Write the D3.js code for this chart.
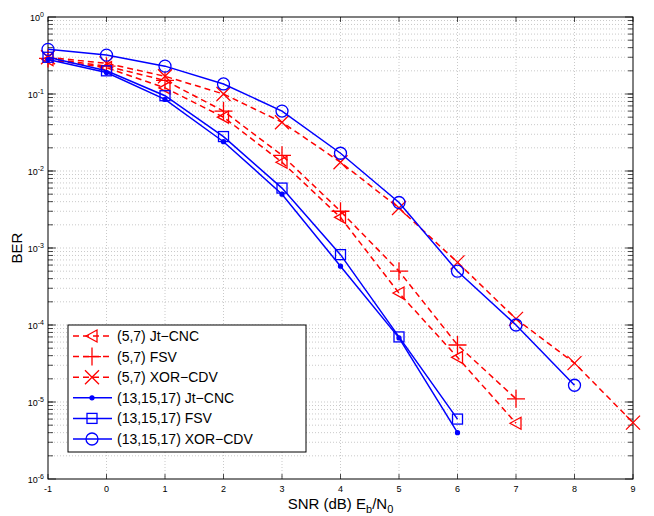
<!DOCTYPE html><html><head><meta charset="utf-8">
<script src="https://cdn.jsdelivr.net/npm/d3@7"></script>
<style>body{margin:0;background:#fff;font-family:"Liberation Sans",Arial,sans-serif}</style></head><body>
<svg id="c" width="654" height="516"></svg>
<script>
const xTicks=[-1,0,1,2,3,4,5,6,7,8,9];
const yExps=[0,-1,-2,-3,-4,-5,-6];
const names=["(5,7) Jt\u2212CNC","(5,7) FSV","(5,7) XOR\u2212CDV","(13,15,17) Jt\u2212CNC","(13,15,17) FSV","(13,15,17) XOR\u2212CDV"];
const x57=[-1,0,1,2,3,4,5,6,7];
const x57x=[-1,0,1,2,3,4,5,6,7,8,9];
const x13=[-1,0,1,2,3,4,5,6];
const x13x=[-1,0,1,2,3,4,5,6,7,8];
const jt57=[0.28,0.22,0.12,0.05,0.013,0.0025,0.00026,3.8e-5,5.3e-6];
const fsv57=[0.29,0.23,0.15,0.06,0.016,0.003,0.0005,5.5e-5,1.1e-5];
const xor57=[0.3,0.25,0.17,0.1,0.043,0.013,0.0033,0.00065,0.00012,3.2e-5,5.4e-6];
const jt13=[0.28,0.19,0.085,0.024,0.005,0.00058,6.8e-5,4e-6];
const fsv13=[0.3,0.2,0.095,0.028,0.006,0.00082,7e-5,6e-6];
const xor13=[0.38,0.32,0.23,0.135,0.06,0.017,0.0039,0.0005,0.0001,1.65e-5];
const series=[
 {xs:x57,ys:jt57,c:"red",dash:"6,4",m:"tri"},
 {xs:x57,ys:fsv57,c:"red",dash:"6,4",m:"plus"},
 {xs:x57x,ys:xor57,c:"red",dash:"6,4",m:"x"},
 {xs:x13,ys:jt13,c:"#0000ff",dash:null,m:"dot"},
 {xs:x13,ys:fsv13,c:"#0000ff",dash:null,m:"sq"},
 {xs:x13x,ys:xor13,c:"#0000ff",dash:null,m:"circ"}];
const L=48,R=633,T=17,B=479;
const svg=d3.select("#c");
const x=d3.scaleLinear().domain([-1,9]).range([L,R]);
const y=d3.scaleLog().domain([1e-6,1]).range([B,T]);
const g=svg.append("g");
// grid
xTicks.forEach(t=>{ if(t>-1&&t<9) g.append("line").attr("x1",x(t)).attr("x2",x(t)).attr("y1",T).attr("y2",B).attr("stroke","#bbb").attr("stroke-width",0.8).attr("stroke-dasharray","1,2");});
for(let e=-6;e<0;e++)for(let k=1;k<10;k++){const v=k*Math.pow(10,e); if(v<=1e-6||v>=1)continue;
 g.append("line").attr("x1",L).attr("x2",R).attr("y1",y(v)).attr("y2",y(v)).attr("stroke","#bbb").attr("stroke-width",0.8).attr("stroke-dasharray","1,2");
 [[L,L+5],[R-5,R]].forEach(p=>g.append("line").attr("x1",p[0]).attr("x2",p[1]).attr("y1",y(v)).attr("y2",y(v)).attr("stroke","#000").attr("stroke-width",0.7));}
xTicks.forEach(t=>{[[B,B-5],[T,T+5]].forEach(p=>g.append("line").attr("x1",x(t)).attr("x2",x(t)).attr("y1",p[0]).attr("y2",p[1]).attr("stroke","#000").attr("stroke-width",0.7));
 g.append("text").attr("x",x(t)).attr("y",B+13).attr("text-anchor","middle").attr("font-size",9).text(t);});
yExps.forEach(e=>{const t=g.append("text").attr("x",L-4).attr("y",y(Math.pow(10,e))+4).attr("text-anchor","end").attr("font-size",9);
 t.append("tspan").text("10");t.append("tspan").attr("dy",-4).attr("font-size",7).text(e);
 [[L,L+8],[R-8,R]].forEach(p=>g.append("line").attr("x1",p[0]).attr("x2",p[1]).attr("y1",y(Math.pow(10,e))).attr("y2",y(Math.pow(10,e))).attr("stroke","#000").attr("stroke-width",0.7));});
g.append("rect").attr("x",L).attr("y",T).attr("width",R-L).attr("height",B-T).attr("fill","none").attr("stroke","#000").attr("stroke-width",1);
function marker(sel,m,cx,cy,c){
 const s=sel.append("g").attr("transform",`translate(${cx},${cy})`).attr("stroke",c).attr("fill","none").attr("stroke-width",1.3);
 if(m=="tri")s.append("path").attr("d","M-6,0L5,-6L5,6Z");
 if(m=="plus")s.append("path").attr("d","M-9,0H9M0,-9V9");
 if(m=="x")s.append("path").attr("d","M-7,-7L7,7M-7,7L7,-7");
 if(m=="dot")s.append("circle").attr("r",2).attr("fill",c);
 if(m=="sq")s.append("rect").attr("x",-5).attr("y",-5).attr("width",10).attr("height",10);
 if(m=="circ")s.append("circle").attr("r",6);
}
const line=d3.line().x(d=>x(d[0])).y(d=>y(d[1]));
series.forEach(s=>{const pts=s.xs.map((v,i)=>[v,s.ys[i]]);
 g.append("path").attr("d",line(pts)).attr("fill","none").attr("stroke",s.c).attr("stroke-width",1.5).attr("stroke-dasharray",s.dash);
 pts.forEach(p=>marker(g,s.m,x(p[0]),y(p[1]),s.c));});
// labels
const xl=g.append("text").attr("x",(L+R)/2).attr("y",B+30).attr("text-anchor","middle").attr("font-size",15);
xl.append("tspan").text("SNR (dB) E");xl.append("tspan").attr("dy",4).attr("font-size",11).text("b");
xl.append("tspan").attr("dy",-4).text("/N");xl.append("tspan").attr("dy",4).attr("font-size",11).text("0");
g.append("text").attr("transform",`translate(${L-26},${(T+B)/2}) rotate(-90)`).attr("text-anchor","middle").attr("font-size",15).text("BER");
// legend
const lg=g.append("g");
lg.append("rect").attr("x",68).attr("y",325).attr("width",238).attr("height",127).attr("fill","#fff").attr("stroke","#000");
names.forEach((n,i)=>{const yy=336+i*20.6,s=series[i];
 lg.append("line").attr("x1",73).attr("x2",112).attr("y1",yy).attr("y2",yy).attr("stroke",s.c).attr("stroke-width",1.5).attr("stroke-dasharray",s.dash);
 marker(lg,s.m,92,yy,s.c);
 lg.append("text").attr("x",117).attr("y",yy+5).attr("font-size",14).text(n);});
</script></body></html>
